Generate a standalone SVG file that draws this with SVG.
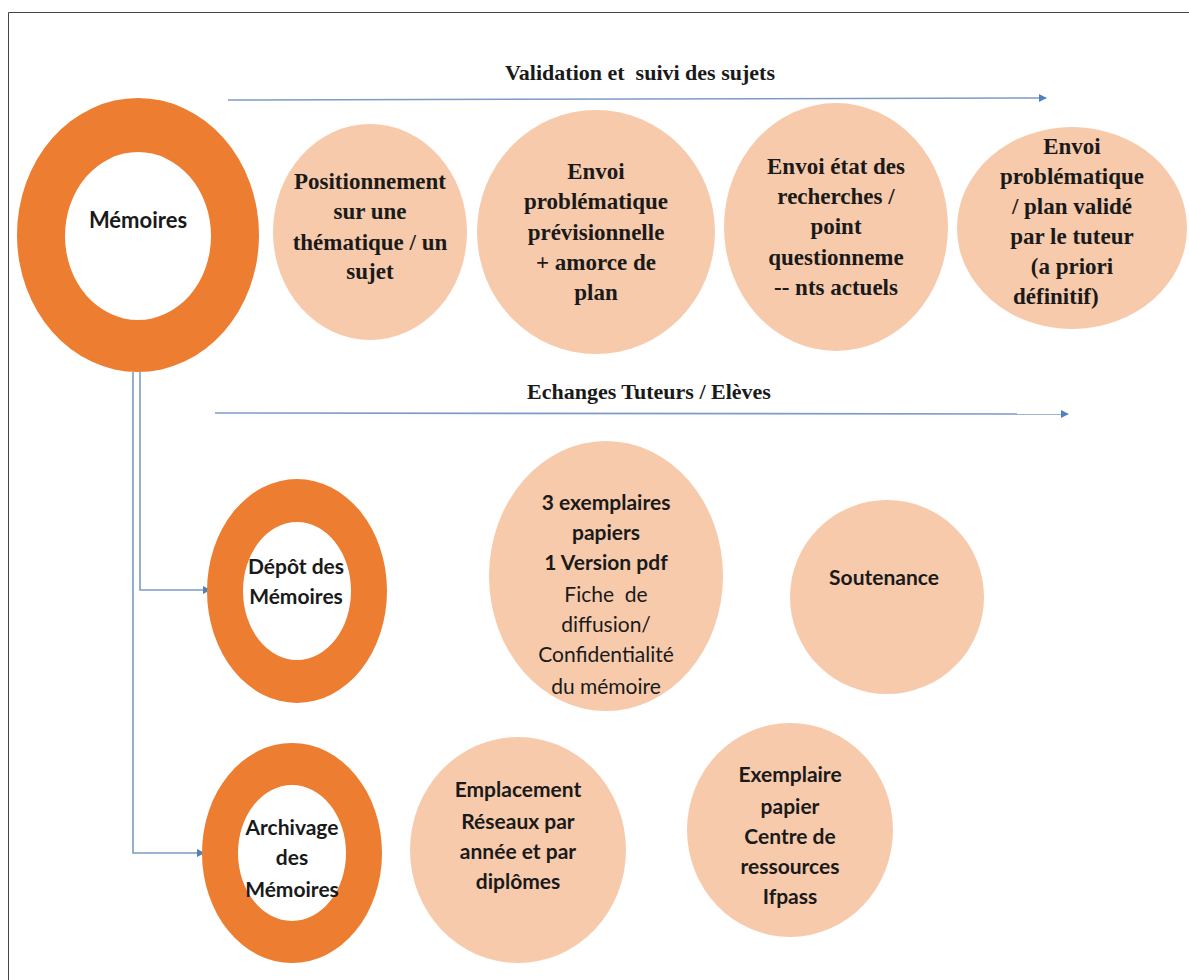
<svg xmlns="http://www.w3.org/2000/svg" width="1189" height="980" viewBox="0 0 1189 980">
<defs>
<style>
.ring{fill:#ED7D31;fill-rule:evenodd}
.bub{fill:#F7CAAC}
.sf{font-family:"Liberation Serif","Times New Roman",Times,serif;font-weight:bold;font-size:23px;fill:#1a1a1a;text-anchor:middle}
.ttl{font-family:"Liberation Serif","Times New Roman",Times,serif;font-weight:bold;font-size:22px;fill:#1a1a1a;white-space:pre}
.cb{font-family:Lato,"Liberation Sans",sans-serif;font-weight:bold;font-size:21px;fill:#1a1a1a;text-anchor:middle;white-space:pre}
.cr{font-family:Lato,"Liberation Sans",sans-serif;font-weight:normal;font-size:21px;fill:#1a1a1a;text-anchor:middle;white-space:pre}
.con{fill:none;stroke:#7C9CC6;stroke-width:1.6}
</style>
<marker id="ah" viewBox="0 0 10 10" refX="9" refY="5" markerWidth="8" markerHeight="8" markerUnits="userSpaceOnUse" orient="auto">
<path d="M0,0 L10,5 L0,10 z" fill="#4F81BD"/>
</marker>
</defs>
<rect width="1189" height="980" fill="#ffffff"/>
<path d="M8.5,990 V12.5 H1200" fill="none" stroke="#444" stroke-width="1"/>

<g id="connectors">
<path class="con" d="M228,100 L1046,98" marker-end="url(#ah)"/>
<path class="con" d="M215,413 L1068,414" marker-end="url(#ah)"/>
<path class="con" d="M140,372 V590 H210" marker-end="url(#ah)"/>
<path class="con" d="M133,372 V853 H204" marker-end="url(#ah)"/>
</g>

<g id="title-validation"><text class="ttl" x="505" y="80" font-family="Liberation Serif, serif">Validation et  suivi des sujets</text></g>
<g id="title-echanges"><text class="ttl" x="527" y="399" font-family="Liberation Serif, serif">Echanges Tuteurs / Elèves</text></g>

<g id="memoires">
<path class="ring" d="M17,235 a121,137 0 1,0 242,0 a121,137 0 1,0 -242,0 Z M65,236 a73,84 0 1,0 146,0 a73,84 0 1,0 -146,0 Z"/>
<text class="cb" x="138" y="228" style="font-size:22px">Mémoires</text>
</g>

<g id="positionnement" font-family="Liberation Serif, serif">
<ellipse class="bub" cx="370" cy="232" rx="97" ry="108"/>
<text class="sf" x="370" y="189">Positionnement</text>
<text class="sf" x="370" y="219">sur une</text>
<text class="sf" x="370" y="250">thématique / un</text>
<text class="sf" x="370" y="279">sujet</text>
</g>

<g id="envoi-prev" font-family="Liberation Serif, serif">
<ellipse class="bub" cx="596" cy="232" rx="119" ry="122"/>
<text class="sf" x="596" y="179">Envoi</text>
<text class="sf" x="596" y="209">problématique</text>
<text class="sf" x="596" y="240">prévisionnelle</text>
<text class="sf" x="596" y="270">+ amorce de</text>
<text class="sf" x="596" y="300">plan</text>
</g>

<g id="envoi-etat" font-family="Liberation Serif, serif">
<ellipse class="bub" cx="836" cy="227" rx="112" ry="124"/>
<text class="sf" x="836" y="174">Envoi état des</text>
<text class="sf" x="836" y="204">recherches /</text>
<text class="sf" x="836" y="234">point</text>
<text class="sf" x="836" y="265">questionneme</text>
<text class="sf" x="836" y="295">-- nts actuels</text>
</g>

<g id="envoi-valide" font-family="Liberation Serif, serif">
<ellipse class="bub" cx="1072" cy="228" rx="115" ry="101"/>
<text class="sf" x="1072" y="154">Envoi</text>
<text class="sf" x="1072" y="184">problématique</text>
<text class="sf" x="1072" y="214">/ plan validé</text>
<text class="sf" x="1072" y="244">par le tuteur</text>
<text class="sf" x="1072" y="274">(a priori</text>
<text class="sf" x="1013" y="304" style="text-anchor:start">définitif)</text>
</g>

<g id="depot">
<path class="ring" d="M207,591 a90,112 0 1,0 180,0 a90,112 0 1,0 -180,0 Z M243,591 a54,69 0 1,0 108,0 a54,69 0 1,0 -108,0 Z"/>
<text class="cb" x="296" y="574">Dépôt des</text>
<text class="cb" x="296" y="604">Mémoires</text>
</g>

<g id="exemplaires">
<ellipse class="bub" cx="606" cy="576" rx="117" ry="135"/>
<text class="cb" x="606" y="510">3 exemplaires</text>
<text class="cb" x="606" y="540">papiers</text>
<text class="cb" x="606" y="570">1 Version pdf</text>
<text class="cr" x="606" y="602">Fiche  de</text>
<text class="cr" x="606" y="632">diffusion/</text>
<text class="cr" x="606" y="662">Confidentialité</text>
<text class="cr" x="606" y="694">du mémoire</text>
</g>

<g id="soutenance">
<ellipse class="bub" cx="887" cy="597" rx="97" ry="97"/>
<text class="cb" x="884" y="585">Soutenance</text>
</g>

<g id="archivage">
<path class="ring" d="M202,853 a90,110 0 1,0 180,0 a90,110 0 1,0 -180,0 Z M238,853 a54,68 0 1,0 108,0 a54,68 0 1,0 -108,0 Z"/>
<text class="cb" x="292" y="835">Archivage</text>
<text class="cb" x="292" y="865">des</text>
<text class="cb" x="292" y="897">Mémoires</text>
</g>

<g id="emplacement">
<ellipse class="bub" cx="518" cy="850" rx="108" ry="113"/>
<text class="cb" x="518" y="797">Emplacement</text>
<text class="cb" x="518" y="829">Réseaux par</text>
<text class="cb" x="518" y="859">année et par</text>
<text class="cb" x="518" y="889">diplômes</text>
</g>

<g id="exemplaire-papier">
<ellipse class="bub" cx="790" cy="830" rx="103" ry="107"/>
<text class="cb" x="790" y="782">Exemplaire</text>
<text class="cb" x="790" y="814">papier</text>
<text class="cb" x="790" y="844">Centre de</text>
<text class="cb" x="790" y="874">ressources</text>
<text class="cb" x="790" y="904">Ifpass</text>
</g>
</svg>
